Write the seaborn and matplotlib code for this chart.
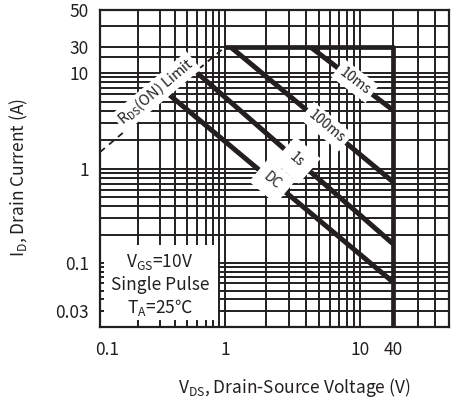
import numpy as np
import pandas as pd
import matplotlib
matplotlib.use("Agg")
import matplotlib.pyplot as plt
import matplotlib.transforms as mtransforms
from matplotlib.patches import Rectangle
from matplotlib.ticker import FixedLocator, FixedFormatter, NullFormatter
import seaborn as sns

# ---------------- data ----------------
x_tick_values = [0.1, 1, 10, 40]
x_tick_labels = ["0.1", "1", "10", "40"]
y_tick_values = [0.03, 0.1, 1, 10, 30, 50]
y_tick_labels = ["0.03", "0.1", "1", "10", "30", "50"]

rds_limit_vds = [0.1, 1.0]
rds_limit_id = [1.5, 30.0]

boundary_vds = [1.0, 40.0, 40.0]
boundary_id = [30.0, 30.0, 0.02]

pulse_names = ["10ms", "100ms", "1s", "DC"]
pulse_vds_start = [4.3, 1.1, 0.6, 0.36]
pulse_id_start = [30.0, 30.0, 10.0, 5.9]
pulse_vds_end = [40.0, 40.0, 40.0, 40.0]
pulse_id_end = [4.1, 0.73, 0.16, 0.062]

x_limits = (0.1, 100)
y_limits = (0.02, 50)

# ---------------- axis geometry of the printed datasheet grid ----------------
# The printed axes are logarithmic per segment but not uniform between the
# labelled values, so a piecewise-log function scale is used.
x_scale_values = [0.1, 1, 10, 40, 100]
x_scale_pos = [0, 125, 260, 293, 349]
y_scale_values = [0.02, 0.1, 1, 10, 30, 50]
y_scale_pos = [0, 64, 158, 254, 280, 317]

x_minor_grid = [0.2, 0.3, 0.4, 0.5, 0.6, 0.7, 0.8, 0.9,
                2, 3, 4, 5, 6, 7, 8, 9, 60, 80]
y_minor_grid = [0.04, 0.05, 0.06, 0.07, 0.08, 0.09,
                0.2, 0.3, 0.4, 0.5, 0.6, 0.7, 0.8, 0.9,
                2, 3, 4, 5, 6, 7, 8, 9, 20, 40]


def piecewise_log(values, positions):
    lv = np.log10(np.asarray(values, float))
    pos = np.asarray(positions, float)
    s_lo = (pos[1] - pos[0]) / (lv[1] - lv[0])
    s_hi = (pos[-1] - pos[-2]) / (lv[-1] - lv[-2])

    def fwd(v):
        v = np.asarray(v, float)
        with np.errstate(divide="ignore", invalid="ignore"):
            l = np.log10(np.where(v > 0, v, 1e-300))
        out = np.interp(l, lv, pos)
        out = np.where(l < lv[0], pos[0] + (l - lv[0]) * s_lo, out)
        out = np.where(l > lv[-1], pos[-1] + (l - lv[-1]) * s_hi, out)
        return out

    def inv(p):
        p = np.asarray(p, float)
        l = np.interp(p, pos, lv)
        l = np.where(p < pos[0], lv[0] + (p - pos[0]) / s_lo, l)
        l = np.where(p > pos[-1], lv[-1] + (p - pos[-1]) / s_hi, l)
        return 10.0 ** l

    return fwd, inv


# ---------------- style ----------------
sns.set_style("white")
plt.rcParams["font.family"] = ["Noto Sans CJK SC", "DejaVu Sans"]
plt.rcParams["mathtext.fontset"] = "custom"
plt.rcParams["mathtext.rm"] = "Noto Sans CJK SC"
plt.rcParams["mathtext.it"] = "Noto Sans CJK SC"
plt.rcParams["mathtext.bf"] = "Noto Sans CJK SC"
plt.rcParams["mathtext.default"] = "rm"
ink = "#231f20"

fig = plt.figure(figsize=(4.64, 4.01), dpi=100)
ax = fig.add_axes([100 / 464, 1 - 327 / 401, 349 / 464, 317 / 401])

# ---------------- marks ----------------
df_pulse = pd.DataFrame({
    "curve": np.repeat(pulse_names, 2),
    "VDS": np.ravel(np.column_stack([pulse_vds_start, pulse_vds_end])),
    "ID": np.ravel(np.column_stack([pulse_id_start, pulse_id_end])),
})
sns.lineplot(data=df_pulse, x="VDS", y="ID", units="curve", estimator=None,
             sort=False, color=ink, lw=3.6, solid_capstyle="butt", ax=ax,
             zorder=2)
sns.lineplot(x=boundary_vds, y=boundary_id, estimator=None, sort=False,
             color=ink, lw=3.4, solid_capstyle="butt", ax=ax, zorder=2)
sns.lineplot(x=rds_limit_vds, y=rds_limit_id, estimator=None, sort=False,
             color=ink, lw=1.3, linestyle=(0, (3.5, 3)), ax=ax, zorder=2)

# ---------------- scales ----------------
ax.set_xscale("function", functions=piecewise_log(x_scale_values, x_scale_pos))
ax.set_yscale("function", functions=piecewise_log(y_scale_values, y_scale_pos))
ax.set_xlim(*x_limits)
ax.set_ylim(*y_limits)

ax.xaxis.set_major_locator(FixedLocator(x_tick_values))
ax.xaxis.set_major_formatter(FixedFormatter(x_tick_labels))
ax.xaxis.set_minor_locator(FixedLocator(x_minor_grid))
ax.xaxis.set_minor_formatter(NullFormatter())
ax.yaxis.set_major_locator(FixedLocator(y_tick_values))
ax.yaxis.set_major_formatter(FixedFormatter(y_tick_labels))
ax.yaxis.set_minor_locator(FixedLocator(y_minor_grid))
ax.yaxis.set_minor_formatter(NullFormatter())

ax.grid(which="both", color=ink, lw=1.4)
ax.tick_params(which="both", length=0, labelsize=12.5, colors=ink)
ax.tick_params(axis="x", pad=10)
ax.tick_params(axis="y", pad=8)
for sp in ax.spines.values():
    sp.set_visible(True)
    sp.set_color(ink)
    sp.set_linewidth(1.6)

# the first x tick label sits just right of the left edge, as printed
first_tick = ax.xaxis.get_major_ticks()[0]
first_tick.label1.set_transform(
    first_tick.label1.get_transform()
    + mtransforms.ScaledTranslation(7 / 100, 0, fig.dpi_scale_trans))

ax.set_xlabel("V$_{\\mathrm{DS}}$, Drain-Source Voltage (V)", fontsize=12.5,
              color=ink)
ax.set_ylabel("I$_{\\mathrm{D}}$, Drain Current (A)", fontsize=12.5, color=ink)
ax.xaxis.set_label_coords(0.556, -0.155)
ax.yaxis.set_label_coords(-0.2, 0.47)


# ---------------- labels on the lines ----------------
def label_on_line(x0, y0, x1, y1, text, t, offset=0.0, size=10, pad=0.3):
    p = ax.transData.transform(np.array([[x0, y0], [x1, y1]]))
    d = p[1] - p[0]
    ang = np.degrees(np.arctan2(d[1], d[0]))
    n = np.array([-d[1], d[0]]) / np.hypot(*d)
    pt = p[0] + t * d + offset * n
    xd, yd = ax.transData.inverted().transform(pt)
    ax.text(xd, yd, text, rotation=ang, rotation_mode="anchor", ha="center",
            va="center", fontsize=size, color=ink, zorder=4,
            bbox=dict(boxstyle=f"square,pad={pad}", fc="white", ec="none"))


label_t = [0.54, 0.59, 0.51, 0.46]
label_pad = [0.3, 0.3, 0.7, 0.6]
for name, xs, ys, xe, ye, t, pd_ in zip(pulse_names, pulse_vds_start,
                                         pulse_id_start, pulse_vds_end,
                                         pulse_id_end, label_t, label_pad):
    label_on_line(xs, ys, xe, ye, name, t, size=10, pad=pd_)

label_on_line(rds_limit_vds[0], rds_limit_id[0], rds_limit_vds[1],
              rds_limit_id[1], "R$_{\\mathrm{DS}}$(ON) Limit", 0.5,
              offset=10, size=10.5, pad=0.15)

# ---------------- condition box ----------------
ax.add_patch(Rectangle((0.0115, 0.022), 0.327, 0.237, transform=ax.transAxes,
                       fc="white", ec="none", zorder=2.7))
cond_lines = ["V$_{\\mathrm{GS}}$=10V", "Single Pulse", "T$_{\\mathrm{A}}$=25℃"]
cond_y = [0.205, 0.1325, 0.063]
for s, yy in zip(cond_lines, cond_y):
    ax.text(0.172, yy, s, transform=ax.transAxes, ha="center", va="center",
            fontsize=12.5, color=ink, zorder=4)

fig.savefig("out.png", dpi=100)
